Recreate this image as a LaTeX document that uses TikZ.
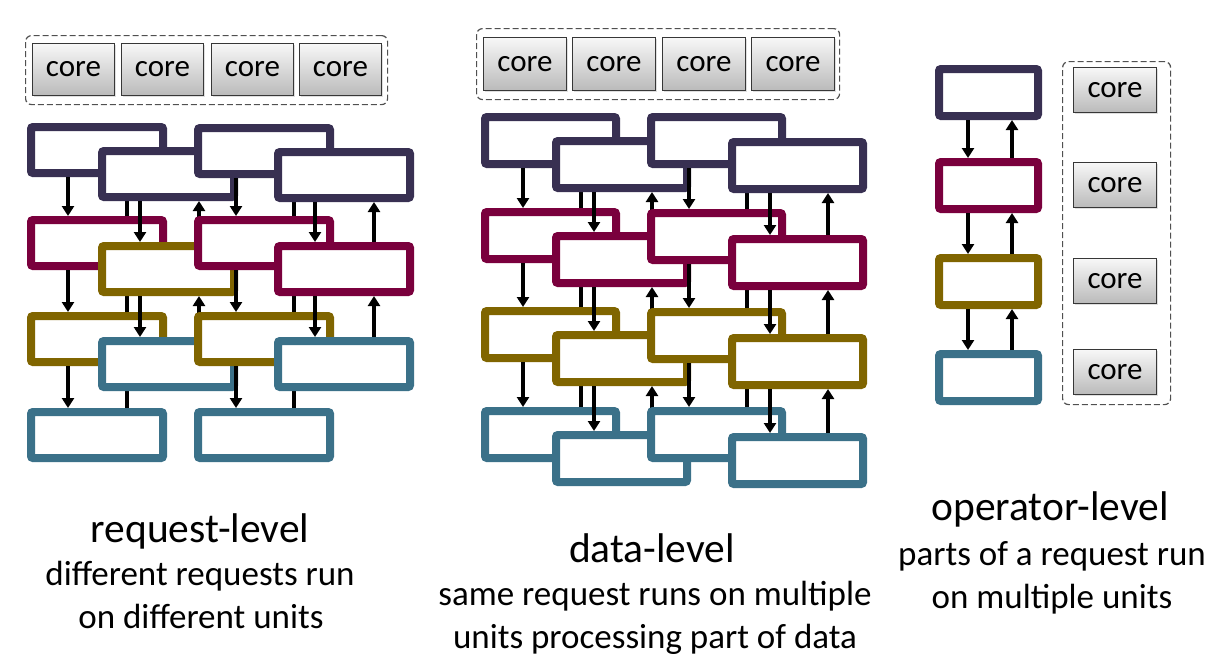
\documentclass[tikz,border=0pt]{standalone}
\usepackage{fontspec}
\setmainfont{Carlito}
\usetikzlibrary{arrows.meta,shadows}
\definecolor{cdark}{RGB}{56,48,82}
\definecolor{cmag}{RGB}{122,0,61}
\definecolor{colive}{RGB}{128,101,0}
\definecolor{cteal}{RGB}{59,113,137}
\definecolor{cdash}{RGB}{80,80,80}
\definecolor{cborder}{RGB}{55,55,55}
\begin{document}
\begin{tikzpicture}[x=1pt,y=-1pt,
  ubox/.style={rectangle, line width=8pt, fill=white, inner sep=0pt, rounded corners=2pt, anchor=north west},
  rbox/.style={ubox, minimum width=132pt, minimum height=46pt},
  dbox/.style={ubox, minimum width=131pt, minimum height=47pt},
  obox/.style={ubox, minimum width=99pt, minimum height=47pt},
  arr/.style={line width=3.6pt, -{Triangle[length=10pt,width=12pt]}},
  dashbox/.style={rectangle, draw=cdash, line width=1.2pt, dash pattern=on 6pt off 3pt, rounded corners=6pt, inner sep=0pt, anchor=north west},
  corebox/.style={rectangle, draw=cborder, line width=1pt, top color=black!3, bottom color=black!27, drop shadow={opacity=0.25, shadow xshift=1.5pt, shadow yshift=-1.5pt}, inner sep=0pt, anchor=north west, font=\fontsize{31pt}{36pt}\selectfont},
  tit/.style={anchor=base, inner sep=0pt, font=\fontsize{41.5pt}{50pt}\selectfont},
  sub/.style={anchor=base, inner sep=0pt, font=\fontsize{35pt}{42pt}\selectfont}
]
\useasboundingbox (0,0) rectangle (1214,667);
\fill[white] (0,0) rectangle (1214,667);

% ================= request-level =================
\node[dashbox, minimum width=362pt, minimum height=69pt] (rC) at (25,35) {};
\foreach \i/\x in {1/32,2/121,3/211,4/299}
  \node[corebox, minimum width=82pt, minimum height=52pt] (rcore\i) at (\x,43) {core};

% stack A
\node[rbox, draw=cdark]  (rA1) at (27,123) {};
\node[rbox, draw=cmag]   (rA2) at (27,216) {};
\node[rbox, draw=colive] (rA3) at (27,312) {};
\node[rbox, draw=cteal]  (rA4) at (27,408) {};
\foreach \u/\l in {rA1/rA2,rA2/rA3,rA3/rA4}{
  \draw[arr] ([xshift=41pt]\u.south west) -- ([xshift=41pt]\l.north west);
  \draw[arr] ([xshift=100pt]\l.north west) -- ([xshift=100pt]\u.south west);
}
% stack B
\node[rbox, draw=cdark]  (rB1) at (98,147) {};
\node[rbox, draw=colive] (rB2) at (98,242) {};
\node[rbox, draw=cteal]  (rB3) at (98,337) {};
\foreach \u/\l in {rB1/rB2,rB2/rB3}{
  \draw[arr] ([xshift=42pt]\u.south west) -- ([xshift=42pt]\l.north west);
  \draw[arr] ([xshift=101pt]\l.north west) -- ([xshift=101pt]\u.south west);
}
% stack C
\node[rbox, draw=cdark]  (rC1) at (194,124) {};
\node[rbox, draw=cmag]   (rC2) at (194,216) {};
\node[rbox, draw=colive] (rC3) at (194,312) {};
\node[rbox, draw=cteal]  (rC4) at (194,408) {};
\foreach \u/\l in {rC1/rC2,rC2/rC3,rC3/rC4}{
  \draw[arr] ([xshift=42pt]\u.south west) -- ([xshift=42pt]\l.north west);
  \draw[arr] ([xshift=100pt]\l.north west) -- ([xshift=100pt]\u.south west);
}
% stack D
\node[rbox, draw=cdark]  (rD1) at (274,148) {};
\node[rbox, draw=cmag]   (rD2) at (274,242) {};
\node[rbox, draw=cteal]  (rD3) at (274,337) {};
\foreach \u/\l in {rD1/rD2,rD2/rD3}{
  \draw[arr] ([xshift=41pt]\u.south west) -- ([xshift=41pt]\l.north west);
  \draw[arr] ([xshift=100pt]\l.north west) -- ([xshift=100pt]\u.south west);
}

\node[tit] (reqT)  at (200,542) {request-level};
\node[sub] (reqS1) at (200,585) {different requests run};
\node[sub] (reqS2) at (201,628) {on different units};

% ================= data-level =================
\node[dashbox, minimum width=363pt, minimum height=71pt] (dC) at (476,28) {};
\foreach \i/\x in {1/483,2/572,3/662,4/751}
  \node[corebox, minimum width=83pt, minimum height=53pt] (dcore\i) at (\x,37) {core};

\foreach \s/\x/\ya/\yb/\yc/\yd in {A/481/113/208/307/407, B/552/137/232/331/431, C/647/113/209/308/407, D/728/138/235/334/433}{
  \node[dbox, draw=cdark]  (d\s1) at (\x,\ya) {};
  \node[dbox, draw=cmag]   (d\s2) at (\x,\yb) {};
  \node[dbox, draw=colive] (d\s3) at (\x,\yc) {};
  \node[dbox, draw=cteal]  (d\s4) at (\x,\yd) {};
  \foreach \u/\l in {1/2,2/3,3/4}{
    \draw[arr] ([xshift=42pt]d\s\u.south west) -- ([xshift=42pt]d\s\l.north west);
    \draw[arr] ([xshift=100pt]d\s\l.north west) -- ([xshift=100pt]d\s\u.south west);
  }
}

\node[tit] (datT)  at (652,562) {data-level};
\node[sub] (datS1) at (655,605) {same request runs on multiple};
\node[sub] (datS2) at (655,648) {units processing part of data};

% ================= operator-level =================
\node[obox, draw=cdark]  (o1) at (935,65) {};
\node[obox, draw=cmag]   (o2) at (935,158) {};
\node[obox, draw=colive] (o3) at (935,254) {};
\node[obox, draw=cteal]  (o4) at (935,350) {};
\foreach \u/\l in {o1/o2,o2/o3,o3/o4}{
  \draw[arr] ([xshift=33pt]\u.south west) -- ([xshift=33pt]\l.north west);
  \draw[arr] ([xshift=77pt]\l.north west) -- ([xshift=77pt]\u.south west);
}
\node[dashbox, minimum width=108pt, minimum height=343pt] (oC) at (1062,61) {};
\foreach \i/\y in {1/67,2/162,3/258,4/349}
  \node[corebox, minimum width=83pt, minimum height=45pt] (ocore\i) at (1073,\y) {core};

\node[tit] (opT)  at (1050,520) {operator-level};
\node[sub] (opS1) at (1052,565) {parts of a request run};
\node[sub] (opS2) at (1052,608) {on multiple units};
\end{tikzpicture}
\end{document}
